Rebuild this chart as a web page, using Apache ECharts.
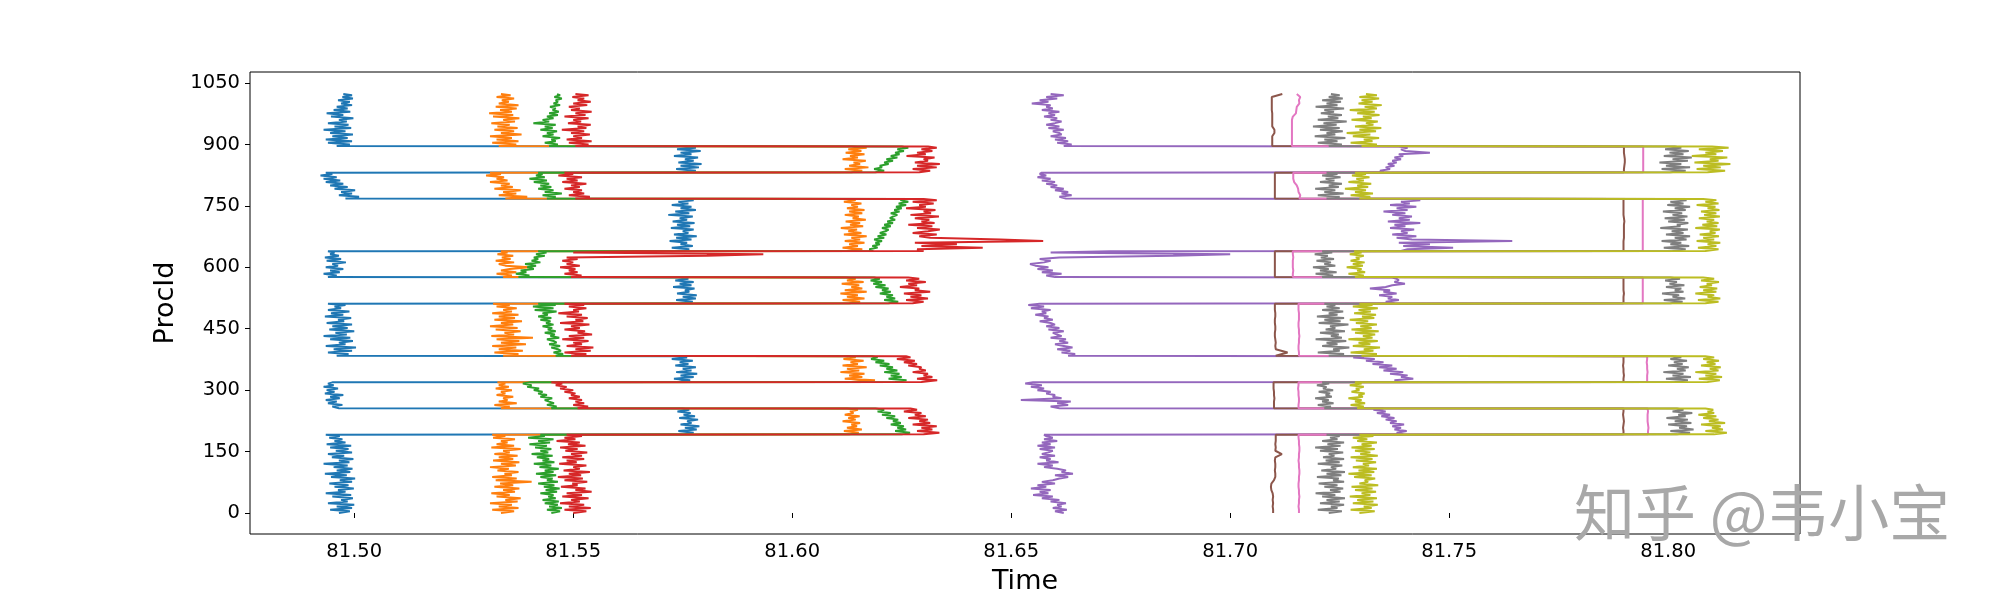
<!DOCTYPE html>
<html><head><meta charset="utf-8">
<script src="https://cdn.jsdelivr.net/npm/echarts@6/dist/echarts.min.js"></script>
<style>html,body{margin:0;padding:0;background:#fff}#c{width:2000px;height:600px}</style>
</head><body><div id="c"></div>
<script>
// Time value = T0 + (blockBase + offset) * UNIT   (UNIT = 0.1 ms)
const T0 = 81.4, UNIT = 1e-4;
const xTicks = [81.50, 81.55, 81.60, 81.65, 81.70, 81.75, 81.80];
const yTicks = [0, 150, 300, 450, 600, 750, 900, 1050];
// proc-id groups (node blocks): A..K
const blockStarts = [0, 192, 256, 320, 384, 512, 576, 640, 768, 832, 896];
// sampled proc ids (every 4th proc)
const procIds = [
  0,4,8,12,16,20,24,28,32,36,40,44,48,52,56,60,64,68,72,76,80,84,88,92,96,100,104,108,112,116,120,124,128,132,136,140,144,148,152,156,160,164,168,172,176,180,184,188,191,
  192,196,200,204,208,212,216,220,224,228,232,236,240,244,248,252,255,
  256,260,264,268,272,276,280,284,288,292,296,300,304,308,312,316,319,
  320,324,328,332,336,340,344,348,352,356,360,364,368,372,376,380,383,
  384,388,392,396,400,404,408,412,416,420,424,428,432,436,440,444,448,452,456,460,464,468,472,476,480,484,488,492,496,500,504,508,511,
  512,516,520,524,528,532,536,540,544,548,552,556,560,564,568,572,575,
  576,580,584,588,592,596,600,604,608,612,616,620,624,628,632,636,639,
  640,644,648,652,656,660,664,668,672,676,680,684,688,692,696,700,704,708,712,716,720,724,728,732,736,740,744,748,752,756,760,764,767,
  768,772,776,780,784,788,792,796,800,804,808,812,816,820,824,828,831,
  832,836,840,844,848,852,856,860,864,868,872,876,880,884,888,892,895,
  896,900,904,908,912,916,920,924,928,932,936,940,944,948,952,956,960,964,968,972,976,980,984,988,992,996,1000,1004,1008,1012,1016,1020,1023
];
// sampled proc ids (every 8th proc) for the nearly vertical series
const procIds8 = [
  0,8,16,24,32,40,48,56,64,72,80,88,96,104,112,120,128,136,144,152,160,168,176,184,191,
  192,200,208,216,224,232,240,248,255,
  256,264,272,280,288,296,304,312,319,
  320,328,336,344,352,360,368,376,383,
  384,392,400,408,416,424,432,440,448,456,464,472,480,488,496,504,511,
  512,520,528,536,544,552,560,568,575,
  576,584,592,600,608,616,624,632,639,
  640,648,656,664,672,680,688,696,704,712,720,728,736,744,752,760,767,
  768,776,784,792,800,808,816,824,831,
  832,840,848,856,864,872,880,888,895,
  896,904,912,920,928,936,944,952,960,968,976,984,992,1000,1008,1016,1023
];

const blueBase = [925,1730,925,1725,925,1725,925,1715,920,1725,925];
const blueOff = [
  40,65,20,70,35,75,15,60,45,72,25,68,10,55,38,74,30,62,18,70,42,77,22,58,8,66,35,71,28,60,5,64,40,73,24,52,15,70,33,62,20,68,12,55,30,48,18,42,10,
  20,45,10,52,25,58,15,40,30,55,12,48,22,38,8,35,20,
  40,25,48,15,35,10,42,20,50,8,30,12,38,5,28,15,25,
  15,42,5,50,20,58,10,45,25,55,8,38,18,48,0,35,20,
  35,62,15,70,28,79,10,55,40,72,20,66,5,58,32,75,18,60,25,70,12,52,38,68,8,50,22,64,15,45,30,55,15,
  20,48,10,55,25,57,12,40,30,52,3,45,18,50,8,38,15,
  15,35,5,42,20,50,10,38,25,56,12,45,8,40,20,30,15,
  25,50,10,58,30,45,5,55,20,67,15,48,35,60,8,52,22,62,12,45,28,58,2,50,18,65,30,55,10,48,25,60,30,
  60,91,45,75,50,82,35,65,25,55,15,48,10,40,3,30,15,
  25,55,10,62,20,68,15,50,30,60,5,45,20,66,12,55,35,
  35,65,15,70,10,60,25,72,20,55,5,68,30,62,15,58,40,73,22,50,12,66,28,60,35,70,45,65,38,72,48,70,50
];
const orangeBase = [1305,2110,1315,2105,1305,2105,1315,2110,1300,2110,1305];
const orangeOff = [
  30,60,10,70,25,55,5,68,40,75,20,50,8,62,35,72,15,58,28,100,18,66,10,55,38,70,22,48,5,64,30,72,12,58,25,68,15,50,35,75,8,60,20,45,30,62,12,40,10,
  20,42,8,49,15,38,25,45,5,35,18,44,10,30,22,40,15,
  20,40,5,56,15,35,25,48,10,30,20,45,8,38,15,30,12,
  30,84,15,55,25,60,5,48,20,65,10,45,28,58,12,40,25,
  35,70,15,80,25,65,10,87,30,72,20,103,8,60,38,75,18,68,5,58,30,78,15,62,25,70,10,55,35,66,20,50,12,
  25,50,10,60,20,45,5,65,15,55,30,48,8,58,20,40,18,
  25,45,10,55,20,40,86,30,15,50,8,42,22,48,12,35,20,
  15,50,5,40,20,55,10,45,25,60,8,48,18,38,1,52,22,45,12,58,28,42,10,50,20,55,15,40,25,48,8,35,15,
  45,95,30,70,40,80,20,62,35,55,10,50,25,42,1,35,10,
  25,50,10,64,20,45,30,58,5,40,22,55,12,48,18,60,25,
  25,65,10,70,20,55,5,77,30,60,15,68,22,50,8,62,35,72,12,58,3,55,28,66,18,70,25,48,32,60,20,52,30
];
const greenBase = [1395,2180,1380,2170,1400,2175,1365,2175,1400,2185,1405];
const greenOff = [
  55,75,45,79,50,70,40,72,35,65,48,60,30,68,42,74,38,62,25,70,45,58,30,66,20,60,40,72,28,55,15,62,35,50,22,58,10,48,30,55,18,45,5,52,25,60,2,40,30,
  70,89,55,80,60,75,45,68,50,62,35,55,25,45,15,30,10,
  70,82,60,76,65,55,72,45,60,40,50,30,42,15,25,5,20,
  65,91,50,80,55,75,40,70,45,60,30,52,20,40,10,25,12,
  60,77,55,72,65,50,70,45,62,55,40,68,48,58,35,60,42,52,30,55,38,48,25,50,20,42,30,62,12,55,8,60,20,
  45,67,35,60,40,55,25,50,30,45,15,38,10,30,4,25,12,
  10,35,4,28,15,45,30,50,25,60,40,55,45,70,50,74,55,
  10,1,20,8,25,15,30,12,35,20,40,25,38,45,30,50,35,55,42,60,48,55,65,50,70,58,75,62,85,68,90,72,80,
  40,60,30,74,35,55,20,50,25,45,10,40,0,35,15,30,20,
  5,25,2,20,15,35,25,45,30,55,40,60,50,70,55,80,65,
  40,60,30,55,45,65,25,50,35,58,20,48,30,55,4,40,25,50,35,60,40,62,48,55,42,65,50,60,55,69,52,65,58
];
const redBase = [1460,2245,1445,2235,1465,2245,1465,2255,1465,2260,1470];
const redOff = [
  40,70,20,80,30,65,10,55,35,75,15,60,25,82,45,68,12,50,38,72,20,62,5,58,30,78,18,55,40,70,8,48,25,65,15,60,35,72,22,50,10,68,28,55,2,45,20,60,25,
  55,91,40,75,50,85,30,70,45,65,20,60,35,50,10,40,25,
  65,89,55,80,60,75,45,70,50,60,35,55,25,40,15,30,5,
  60,96,50,85,65,75,40,70,55,60,30,50,20,45,4,35,25,
  30,65,15,75,40,81,20,55,35,70,10,60,25,78,45,62,15,50,30,72,5,58,40,68,20,55,1,48,35,65,25,60,15,
  30,55,15,65,25,50,10,70,35,45,1,40,20,60,15,45,20,
  30,54,15,45,25,40,5,50,20,35,10,45,20,340,469,35,180,
  45,30,180,40,121,25,318,220,60,35,75,20,55,82,30,65,10,70,40,58,25,80,15,62,45,72,5,50,35,68,20,75,45,
  40,73,25,60,35,55,15,50,30,65,10,45,20,55,1,35,15,
  30,55,15,70,25,77,20,50,40,65,1,45,25,60,35,70,50,
  35,65,20,72,15,50,30,68,25,55,4,60,40,70,18,48,30,65,10,58,35,72,25,45,20,62,30,70,40,55,28,65,35
];
const purpleBase = [2540,3325,2520,3280,2535,3315,2540,3345,2555,3340,2545];
const purpleOff = [
  80,60,87,55,75,65,85,50,70,30,55,10,45,25,50,5,40,20,60,30,55,70,90,60,101,75,85,65,35,55,20,68,40,50,25,60,30,45,55,25,60,20,50,30,65,35,55,40,35,
  70,55,78,50,65,45,72,40,55,30,50,20,40,10,30,2,25,
  90,70,110,85,116,2,95,75,80,60,70,40,55,25,50,12,30,
  120,95,138,110,125,85,115,70,100,60,90,45,70,30,50,1,25,
  95,111,80,100,70,105,85,65,95,75,90,55,80,70,60,85,50,75,45,65,55,30,60,40,50,20,45,35,55,10,40,4,30,
  60,40,70,45,55,25,65,35,50,4,40,55,84,60,70,65,55,
  60,40,75,30,55,20,45,15,3,35,50,25,70,330,460,50,186,
  45,60,164,50,111,40,299,70,35,80,25,60,45,75,20,55,30,89,15,65,40,70,25,55,5,60,35,80,20,65,45,89,50,
  70,55,83,60,75,45,65,35,50,25,45,15,35,5,25,10,15,
  10,2,25,15,35,20,40,30,50,35,55,45,116,60,50,65,45,
  75,93,60,85,55,80,45,70,65,50,75,40,65,35,55,70,45,60,30,55,40,65,25,50,35,45,2,40,20,60,35,75,45
];
const grayBase = [3190,3995,3190,3985,3190,3985,3185,3980,3190,3975,3185];
const grayOff = [
  35,65,10,55,40,70,15,60,30,72,20,50,5,62,38,68,25,55,12,70,45,58,8,64,30,72,18,52,40,66,10,60,28,70,22,48,35,68,15,56,4,62,32,70,20,55,38,60,30,
  25,55,10,63,30,48,5,58,20,50,1,45,28,60,15,40,25,
  25,40,10,46,20,35,4,42,28,38,12,45,22,30,8,36,20,
  30,60,10,67,25,50,4,55,35,62,15,48,28,58,20,45,25,
  35,70,10,60,45,82,20,55,30,75,5,65,40,58,15,72,28,50,38,80,12,62,25,70,8,55,35,68,20,60,30,50,25,
  20,48,5,54,25,40,1,50,30,45,10,52,18,35,8,42,20,
  25,50,10,58,20,40,4,55,30,45,12,52,22,38,8,48,25,
  30,60,10,68,25,50,5,62,35,70,15,55,28,65,2,48,40,66,20,58,12,64,30,52,8,60,35,70,18,55,25,62,30,
  30,60,10,69,25,50,4,58,35,65,15,48,28,62,20,55,30,
  30,65,10,75,20,55,5,70,35,79,15,60,28,72,18,55,40,
  40,70,15,60,30,78,8,55,35,72,20,65,4,58,28,81,15,62,38,70,22,52,30,75,10,60,35,68,25,72,40,65,45
];
const oliveBase = [3265,4065,3265,4060,3265,4060,3265,4060,3260,4050,3265];
const oliveOff = [
  30,65,10,58,40,72,15,62,25,70,8,55,35,68,20,60,12,73,30,50,42,66,18,58,5,64,28,70,15,52,38,68,22,60,10,72,32,55,20,65,12,58,35,70,25,48,15,62,30,
  40,69,20,60,35,55,10,65,28,50,15,45,4,40,25,38,20,
  25,40,10,43,20,35,5,38,28,42,12,30,22,40,8,35,20,
  30,58,10,63,25,50,2,55,35,60,15,48,28,56,20,45,25,
  35,70,10,62,40,77,15,55,28,72,5,60,38,66,20,74,12,58,32,70,22,50,8,64,36,68,18,56,28,72,15,60,30,
  25,55,8,59,30,45,2,50,20,52,12,40,28,56,15,45,20,
  20,40,5,43,25,35,1,38,15,42,10,30,22,40,8,35,18,
  25,55,8,50,30,59,5,45,20,56,12,48,35,58,2,52,18,55,28,45,10,58,22,50,15,57,30,48,5,55,25,50,20,
  35,60,15,66,25,50,2,55,30,62,10,45,28,58,18,50,25,
  40,80,15,70,30,92,10,65,45,85,4,60,35,75,20,88,50,
  35,70,10,60,40,75,15,55,1,68,30,80,20,62,45,72,12,58,38,76,25,65,8,70,42,81,28,60,35,75,30,70,45
];
// brown & pink: absolute values (T0 + v*UNIT) at procIds8
const brownVals = [
  3098,3098,3097,3098,3097,3098,3097,3094,3093,3094,3100,3103,3103,3102,3103,3103,3102,3103,3118,3103,3104,3103,3104,3104,3104,
  3898,3898,3897,3898,3899,3898,3897,3898,3898,
  3100,3100,3100,3101,3100,3100,3099,3099,3099,
  3898,3898,3899,3898,3898,3897,3898,3898,3898,
  3104,3131,3104,3103,3104,3103,3102,3102,3103,3103,3102,3102,3103,3103,3102,3102,3102,
  3898,3898,3898,3899,3898,3898,3898,3898,3898,
  3102,3102,3102,3102,3102,3102,3102,3102,3102,
  3898,3898,3898,3898,3899,3899,3899,3899,3899,3900,3899,3898,3898,3898,3898,3898,3898,
  3102,3102,3102,3102,3102,3102,3102,3102,3102,
  3899,3899,3900,3901,3901,3900,3899,3899,3899,
  3096,3096,3096,3096,3101,3101,3096,3096,3096,3096,3096,3095,3095,3095,3095,3095,3119
];
const pinkVals = [
  3157,3157,3156,3157,3157,3158,3157,3157,3156,3156,3157,3157,3158,3158,3157,3157,3156,3157,3157,3158,3158,3157,3157,3156,3156,
  3954,3954,3955,3954,3953,3953,3953,3954,3953,
  3156,3156,3157,3157,3156,3156,3155,3156,3156,
  3952,3952,3952,3953,3952,3952,3951,3952,3952,
  3157,3157,3156,3156,3157,3157,3158,3157,3157,3156,3156,3157,3157,3157,3156,3156,3156,
  3942,3942,3942,3942,3942,3942,3942,3942,3942,
  3143,3143,3144,3143,3143,3143,3144,3143,3143,
  3942,3942,3942,3942,3942,3942,3942,3942,3942,3942,3942,3942,3942,3942,3942,3942,3942,
  3158,3160,3156,3155,3152,3146,3144,3144,3144,
  3943,3943,3943,3943,3943,3943,3943,3943,3943,
  3141,3141,3141,3141,3141,3141,3141,3141,3141,3143,3150,3151,3152,3158,3157,3160,3152
];

function blockOf(p) { let b = 0; while (b + 1 < blockStarts.length && p >= blockStarts[b + 1]) b++; return b; }
function fromOffsets(base, off) { return procIds.map((p, i) => [T0 + (base[blockOf(p)] + off[i]) * UNIT, p]); }
function fromValues(vals) { return procIds8.map((p, i) => [T0 + vals[i] * UNIT, p]); }

const seriesList = [
  [fromOffsets(blueBase, blueOff), '#1f77b4'],
  [fromOffsets(orangeBase, orangeOff), '#ff7f0e'],
  [fromOffsets(greenBase, greenOff), '#2ca02c'],
  [fromOffsets(redBase, redOff), '#d62728'],
  [fromOffsets(purpleBase, purpleOff), '#9467bd'],
  [fromValues(brownVals), '#8c564b'],
  [fromValues(pinkVals), '#e377c2'],
  [fromOffsets(grayBase, grayOff), '#7f7f7f'],
  [fromOffsets(oliveBase, oliveOff), '#bcbd22']
];
[blueOff, orangeOff, greenOff, redOff, purpleOff, grayOff, oliveOff].forEach((a, i) => { if (a.length !== procIds.length) console.error('offset length mismatch', i, a.length, procIds.length); });
[brownVals, pinkVals].forEach((a, i) => { if (a.length !== procIds8.length) console.error('value length mismatch', i, a.length); });

const FONT = 'DejaVu Sans';
const chart = echarts.init(document.getElementById('c'), null, {renderer: 'canvas'});
chart.setOption({
  animation: false,
  backgroundColor: '#fff',
  grid: {left: 250, top: 72, width: 1550, height: 462, show: true, borderColor: '#000', borderWidth: 1, backgroundColor: 'transparent'},
  xAxis: {
    type: 'value', min: 81.4762, max: 81.8301,
    name: 'Time', nameLocation: 'middle', nameGap: 34,
    nameTextStyle: {fontFamily: FONT, fontSize: 27, color: '#000'},
    axisLine: {show: false},
    axisTick: {show: true, customValues: xTicks, length: 5, lineStyle: {color: '#000', width: 1}},
    axisLabel: {customValues: xTicks, margin: 8, fontFamily: FONT, fontSize: 19.5, color: '#000',
      formatter: v => Number(v).toFixed(2)},
    splitLine: {show: false}
  },
  yAxis: {
    type: 'value', min: -51.3, max: 1076.9,
    name: 'ProcId', nameLocation: 'middle', nameGap: 44,
    nameTextStyle: {fontFamily: FONT, fontSize: 27, color: '#000'},
    axisLine: {show: false},
    axisTick: {show: true, customValues: yTicks, length: 5, lineStyle: {color: '#000', width: 1}},
    axisLabel: {customValues: yTicks, margin: 10, fontFamily: FONT, fontSize: 19.5, color: '#000',
      formatter: v => String(Math.round(v))},
    splitLine: {show: false}
  },
  series: seriesList.map(([data, color]) => ({
    type: 'line',
    data: data,
    showSymbol: false, symbol: 'none', smooth: false,
    lineStyle: {width: 2, color: color},
    itemStyle: {color: color},
    emphasis: {disabled: true},
    silent: true
  })),
  graphic: [{
    type: 'text', left: 1574, top: 482, z: 100,
    style: {text: '知乎 @韦小宝', fontSize: 61, fontFamily: 'Noto Sans CJK SC', fill: '#a8a8a8'}
  }]
});
</script>
</body></html>
